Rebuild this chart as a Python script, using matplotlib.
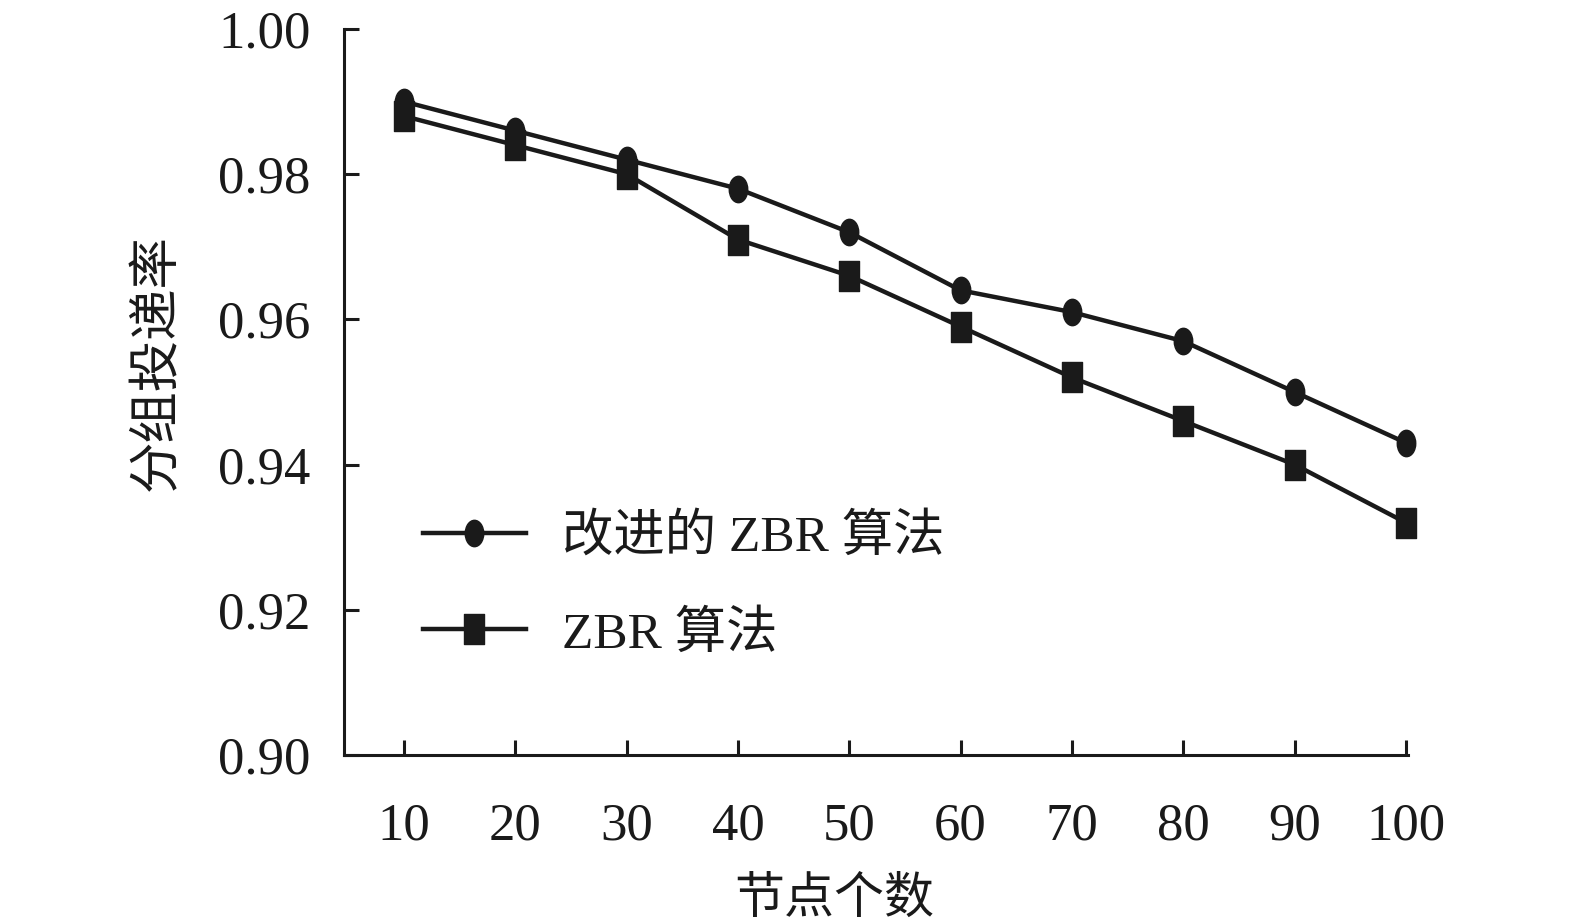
import matplotlib
matplotlib.use("Agg")
import matplotlib.pyplot as plt
import numpy as np
from matplotlib.path import Path
from matplotlib.transforms import Affine2D

plt.rcParams['font.family'] = ['Liberation Serif', 'Noto Sans CJK SC']

nodes = [10, 20, 30, 40, 50, 60, 70, 80, 90, 100]
improved_zbr = [0.990, 0.986, 0.982, 0.978, 0.972, 0.964, 0.961, 0.957, 0.950, 0.943]
zbr = [0.988, 0.984, 0.980, 0.971, 0.966, 0.959, 0.952, 0.946, 0.940, 0.932]
series_labels = ["改进的 ZBR 算法", "ZBR 算法"]
y_ticks = [0.90, 0.92, 0.94, 0.96, 0.98, 1.00]

ink = "#1a1a1a"

# markers in the source are a bit taller than wide
ellipse = Path.unit_circle().transformed(Affine2D().scale(0.7, 1.0))
rect = Path([(-0.34, -0.5), (0.34, -0.5), (0.34, 0.5), (-0.34, 0.5), (-0.34, -0.5)],
            [Path.MOVETO, Path.LINETO, Path.LINETO, Path.LINETO, Path.CLOSEPOLY])

fig = plt.figure(figsize=(15.75, 9.24), dpi=100)
ax = fig.add_axes([0.2184, 0.183, 0.6756, 0.7856])

ax.plot(nodes, improved_zbr, color=ink, lw=3.2, marker=ellipse, markersize=19,
        label=series_labels[0], clip_on=False)
ax.plot(nodes, zbr, color=ink, lw=3.2, marker=rect, markersize=21,
        label=series_labels[1], clip_on=False)

ax.set_xlim(4.6, 100.2)
ax.set_ylim(0.90, 1.00)
ax.set_xticks(nodes)
ax.set_yticks(y_ticks)
ax.set_yticklabels([f"{v:.2f}" for v in y_ticks])

for s in ["top", "right"]:
    ax.spines[s].set_visible(False)
for s in ["left", "bottom"]:
    ax.spines[s].set_linewidth(2.2)
    ax.spines[s].set_color(ink)

ax.tick_params(axis="both", direction="in", length=11, width=2.2, color=ink,
               labelsize=38, labelcolor=ink)
ax.tick_params(axis="x", pad=34)
ax.tick_params(axis="y", pad=24)

ax.set_xlabel("节点个数", fontsize=36, color=ink)
ax.set_ylabel("分组投递率", fontsize=37, color=ink)
ax.xaxis.set_label_coords(0.461, -0.168)
ax.yaxis.set_label_coords(-0.152, 0.541)

leg = ax.legend(loc="upper left", bbox_to_anchor=(0.055, 0.36), frameon=False,
                fontsize=37, handlelength=2.0, handletextpad=0.7,
                labelspacing=0.95, borderaxespad=0)
for t in leg.get_texts():
    t.set_color(ink)

fig.savefig("out.png", dpi=100)
